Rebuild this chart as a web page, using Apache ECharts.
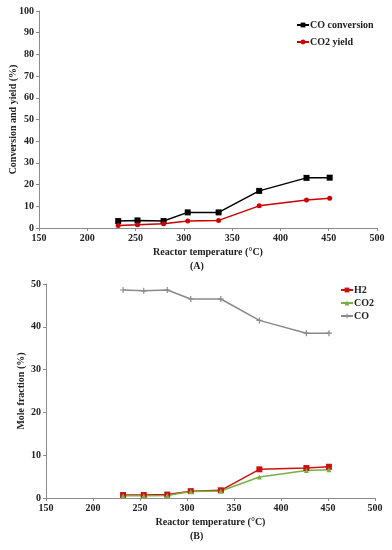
<!DOCTYPE html>
<html><head><meta charset="utf-8">
<script src="https://cdn.jsdelivr.net/npm/echarts@6/dist/echarts.min.js"></script>
<style>html,body{margin:0;padding:0;background:#fff}#c{width:392px;height:550px}</style>
</head><body><div id="c"></div>
<script>
// Panel A
const tempA = [232, 252, 279, 304, 336, 378, 427, 451];
const coConversion = [3.2, 3.5, 3.2, 7.2, 7.2, 17.1, 23.1, 23.2];
const co2Yield = [1.2, 1.5, 2.0, 3.2, 3.5, 10.2, 12.9, 13.7];
// Panel B
const tempB = [232, 254, 279, 304, 336, 377, 427, 451];
const h2Frac = [0.7, 0.7, 0.8, 1.6, 1.8, 6.7, 7.0, 7.3];
const co2Frac = [0.5, 0.55, 0.6, 1.5, 1.65, 4.9, 6.4, 6.6];
const coFrac = [48.6, 48.4, 48.6, 46.5, 46.5, 41.5, 38.5, 38.5];

const pair = (xs, ys) => xs.map((x, i) => [x, ys[i]]);
const FONT = '"Liberation Serif", "Times New Roman", serif';
const AX = '#8c8c8c';
const lab = {fontFamily: FONT, fontWeight: 'bold', fontSize: 10, color: '#222'};
const plus = 'path://M4,0H6V4H10V6H6V10H4V6H0V4H4Z';

function xAx(gi) {
  return {gridIndex: gi, type: 'value', min: 150, max: 500, interval: 50,
    name: 'Reactor temperature (°C)', nameLocation: 'middle', nameGap: 19, nameMoveOverlap: false,
    nameTextStyle: Object.assign({}, lab, {fontSize: 10}),
    axisLine: {lineStyle: {color: AX}}, axisTick: {show: true, length: 3, lineStyle: {color: AX}},
    axisLabel: Object.assign({margin: 5}, lab), splitLine: {show: false}};
}
function yAx(gi, max, interval, name, gap) {
  return {gridIndex: gi, type: 'value', min: 0, max: max, interval: interval,
    name: name, nameLocation: 'middle', nameGap: gap, nameMoveOverlap: false,
    nameTextStyle: Object.assign({}, lab),
    axisLine: {show: true, lineStyle: {color: AX}}, axisTick: {show: true, length: 3, lineStyle: {color: AX}},
    axisLabel: Object.assign({margin: 5}, lab), splitLine: {show: false}};
}

const chart = echarts.init(document.getElementById('c'), null, {renderer: 'canvas'});
chart.setOption({
  animation: false,
  backgroundColor: '#fff',
  grid: [
    {left: 38, right: 15, top: 11, height: 217},
    {left: 46, right: 17, top: 284, height: 214}
  ],
  xAxis: [xAx(0), xAx(1)],
  yAxis: [yAx(0, 100, 10, 'Conversion and yield (%)', 21), yAx(1, 50, 10, 'Mole fraction (%)', 20)],
  legend: [
    {data: ['CO conversion', 'CO2 yield'], orient: 'vertical', left: 296, top: 20, padding: 0, itemGap: 7,
     itemWidth: 12, itemHeight: 6, textStyle: Object.assign({}, lab, {padding: [0, 0, 0, -4]})},
    {data: ['H2', 'CO2', 'CO'], orient: 'vertical', left: 340, top: 285, padding: 0, itemGap: 3,
     itemWidth: 12, itemHeight: 6, textStyle: Object.assign({}, lab, {padding: [0, 0, 0, -4]})}
  ],
  graphic: [
    {type: 'text', left: 190, top: 261, style: {text: '(A)', font: 'bold 10px ' + FONT, fill: '#222'}},
    {type: 'text', left: 190, top: 531, style: {text: '(B)', font: 'bold 10px ' + FONT, fill: '#222'}}
  ],
  series: [
    {name: 'CO conversion', type: 'line', xAxisIndex: 0, yAxisIndex: 0, data: pair(tempA, coConversion),
     symbol: 'rect', symbolSize: 6, color: '#000', lineStyle: {width: 1.5, color: '#000'}},
    {name: 'CO2 yield', type: 'line', xAxisIndex: 0, yAxisIndex: 0, data: pair(tempA, co2Yield),
     symbol: 'circle', symbolSize: 5, color: '#cc0000', lineStyle: {width: 1.5, color: '#cc0000'}},
    {name: 'H2', type: 'line', xAxisIndex: 1, yAxisIndex: 1, data: pair(tempB, h2Frac),
     symbol: 'rect', symbolSize: 6, color: '#cc1111', lineStyle: {width: 1.5, color: '#cc1111'}},
    {name: 'CO2', type: 'line', xAxisIndex: 1, yAxisIndex: 1, data: pair(tempB, co2Frac),
     symbol: 'triangle', symbolSize: 5, color: '#77b043', lineStyle: {width: 1.5, color: '#77b043'}},
    {name: 'CO', type: 'line', xAxisIndex: 1, yAxisIndex: 1, data: pair(tempB, coFrac),
     symbol: plus, symbolSize: 6, color: '#8a8a8a', lineStyle: {width: 1.5, color: '#8a8a8a'}}
  ]
});
</script></body></html>
